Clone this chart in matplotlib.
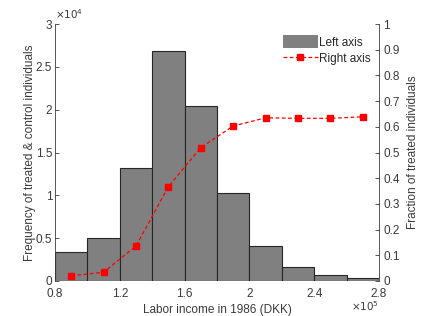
import numpy as np
import matplotlib
matplotlib.use('Agg')
import matplotlib.pyplot as plt
from matplotlib.patches import Patch
from matplotlib.lines import Line2D

# Histogram of labor income (bin edges in 1e5 DKK, counts in 1e4)
bin_edges = [0.8, 1.0, 1.2, 1.4, 1.6, 1.8, 2.0, 2.2, 2.4, 2.6, 2.8]
counts = [0.335, 0.502, 1.319, 2.685, 2.043, 1.027, 0.409, 0.167, 0.070, 0.039]

# Fraction treated per bin (right axis)
bin_centers = [0.9, 1.1, 1.3, 1.5, 1.7, 1.9, 2.1, 2.3, 2.5, 2.7]
frac_treated = [0.020, 0.034, 0.136, 0.367, 0.519, 0.603, 0.635, 0.633, 0.633, 0.639]

x_ticks = [0.8, 1.2, 1.6, 2.0, 2.4, 2.8]
x_tick_labels = ['0.8', '1.2', '1.6', '2', '2.4', '2.8']
left_ticks = [0, 0.5, 1, 1.5, 2, 2.5, 3]
left_tick_labels = ['0', '0.5', '1', '1.5', '2', '2.5', '3']
right_ticks = [0, 0.1, 0.2, 0.3, 0.4, 0.5, 0.6, 0.7, 0.8, 0.9, 1]
right_tick_labels = ['0', '0.1', '0.2', '0.3', '0.4', '0.5', '0.6', '0.7', '0.8', '0.9', '1']

plt.rcParams.update({
    "font.family": ["Liberation Sans", "DejaVu Sans"],
    "font.size": 8.5,
})
AX_COLOR = '#3a3a3a'
BAR_COLOR = '#808080'

fig = plt.figure(figsize=(4.21, 3.16), dpi=100)
ax = fig.add_axes([0.1306, 0.1108, 0.7696, 0.8132])

widths = np.diff(bin_edges)
ax.bar(bin_edges[:-1], counts, width=widths, align='edge',
       color=BAR_COLOR, edgecolor='#262626', linewidth=0.8, zorder=1)
ax.set_xlim(0.8, 2.8)
ax.set_ylim(0, 3)
ax.set_xticks(x_ticks)
ax.set_xticklabels(x_tick_labels)
ax.set_yticks(left_ticks)
ax.set_yticklabels(left_tick_labels)
ax.set_xlabel('Labor income in 1986 (DKK)', color=AX_COLOR, labelpad=3)
ax.set_ylabel('Frequency of treated & control individuals', color=AX_COLOR, labelpad=0)

ax2 = ax.twinx()
ax2.plot(bin_centers, frac_treated, color='red', linestyle='--', dashes=(3, 2),
         linewidth=0.9, marker='s', markersize=4.8, zorder=3)
ax2.set_ylim(0, 1)
ax2.set_yticks(right_ticks)
ax2.set_yticklabels(right_tick_labels)
ax2.set_ylabel('Fraction of treated individuals', color=AX_COLOR, labelpad=5)

for a in (ax, ax2):
    for side in ('top', 'bottom'):
        a.spines[side].set_visible(False)
    a.spines['left'].set_color(AX_COLOR)
    a.spines['right'].set_color(AX_COLOR)
    a.spines['left'].set_linewidth(0.6)
    a.spines['right'].set_linewidth(0.6)
ax.spines['right'].set_visible(False)
ax2.spines['left'].set_visible(False)

ax.tick_params(axis='y', direction='in', length=3, width=0.6, colors=AX_COLOR, pad=2)
ax.tick_params(axis='x', length=0, colors=AX_COLOR, pad=5)
ax2.tick_params(axis='y', direction='in', length=3, width=0.6, colors=AX_COLOR, pad=3)

# exponent labels
ax.text(0.0, 1.012, r'$\times10^4$', transform=ax.transAxes, ha='left', va='bottom',
        fontsize=7.5, color=AX_COLOR)
ax.text(1.0, -0.07, r'$\times10^5$', transform=ax.transAxes, ha='right', va='top',
        fontsize=7.5, color=AX_COLOR)

handles = [Patch(facecolor=BAR_COLOR, edgecolor='none'),
           Line2D([0], [0], color='red', linestyle='--', dashes=(3, 2), linewidth=0.9,
                  marker='s', markersize=4.8)]
leg = ax2.legend(handles, ['Left axis', 'Right axis'], loc='upper left',
                 bbox_to_anchor=(0.69, 0.975), frameon=False, fontsize=8.5,
                 handlelength=2.9, handleheight=1.3, handletextpad=0.15,
                 labelspacing=0.3, borderaxespad=0)
for t in leg.get_texts():
    t.set_color('#262626')

fig.savefig('out.png', dpi=100)
